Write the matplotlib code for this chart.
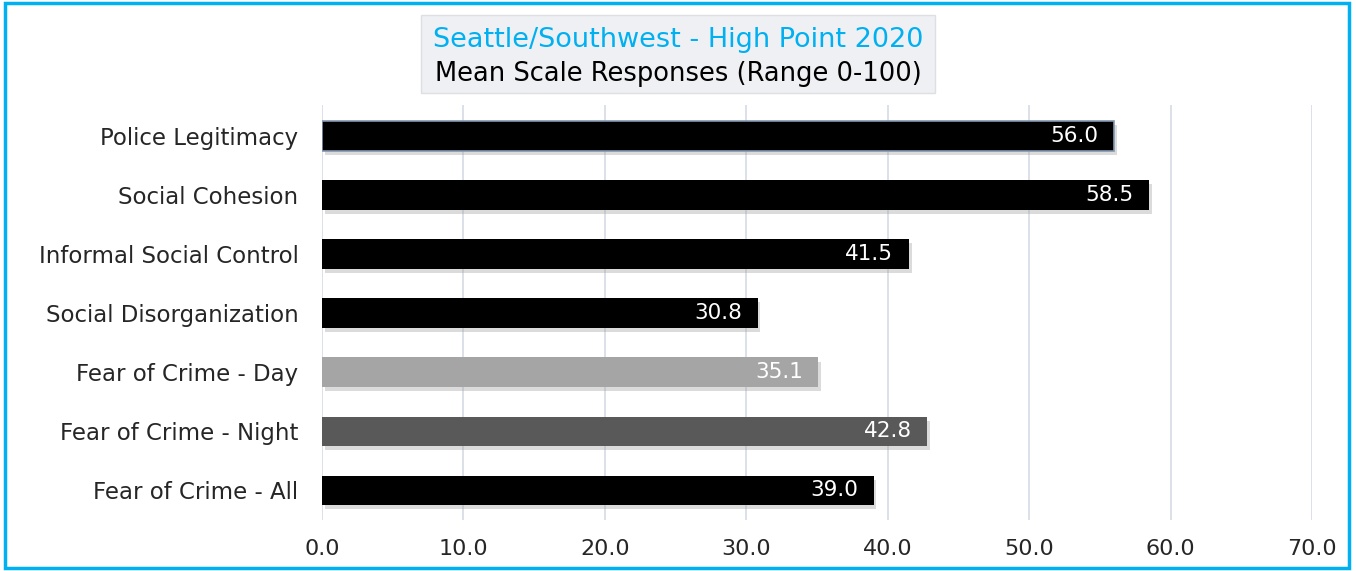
import matplotlib.pyplot as plt
import matplotlib.patheffects as pe
from matplotlib.patches import Rectangle

plt.rcParams['font.family'] = ['DejaVu Sans']

categories = ['Police Legitimacy', 'Social Cohesion', 'Informal Social Control',
              'Social Disorganization', 'Fear of Crime - Day', 'Fear of Crime - Night',
              'Fear of Crime - All']
values = [56.0, 58.5, 41.5, 30.8, 35.1, 42.8, 39.0]
colors = ['#000000', '#000000', '#000000', '#000000', '#A5A5A5', '#595959', '#000000']
xticks = [0, 10, 20, 30, 40, 50, 60, 70]

W, H = 1356, 571
fig = plt.figure(figsize=(W / 100, H / 100), dpi=100)
ax = fig.add_axes([322 / W, 1 - 520 / H, (1312 - 322) / W, (520 - 105) / H])

shadow = [pe.SimplePatchShadow(offset=(2, -3), shadow_rgbFace='#9A9A9A', alpha=0.35), pe.Normal()]
y = list(range(len(categories)))
bars = ax.barh(y, values, height=0.5, color=colors, zorder=3)
for b in bars:
    b.set_path_effects(shadow)
bars[0].set_edgecolor('#8497B0')
bars[0].set_linewidth(1.2)

for yi, v in zip(y, values):
    ax.text(v - 1.1, yi, '%.1f' % v, color='white', ha='right', va='center',
            fontsize=15.5, zorder=4)

ax.set_xlim(0, 70)
ax.set_ylim(6.5, -0.52)
ax.set_xticks(xticks)
ax.set_xticklabels(['%.1f' % t for t in xticks], fontsize=16, color='#262626')
ax.set_yticks(y)
ax.set_yticklabels(categories, fontsize=16.5, color='#262626')
ax.tick_params(length=0, pad=17, axis='y')
ax.tick_params(length=0, pad=14, axis='x')
ax.grid(axis='x', color='#D9DDE6', linewidth=1.3, zorder=0)
ax.set_axisbelow(True)
for s in ax.spines.values():
    s.set_visible(False)

# outer frame
fig.patches.append(Rectangle((5 / W, 3 / H), (1349 - 5) / W, (568 - 3) / H,
                             transform=fig.transFigure, fill=False,
                             edgecolor='#00B0F0', linewidth=2.5))
# title box
fig.patches.append(Rectangle((421 / W, 1 - 93 / H), (935 - 421) / W, (93 - 15) / H,
                             transform=fig.transFigure, facecolor='#EEF0F4',
                             edgecolor='#DDDFE3', linewidth=1))
fig.text(678 / W, 1 - 40 / H, 'Seattle/Southwest - High Point 2020', color='#00B0F0',
         fontsize=19.5, ha='center', va='center')
fig.text(678 / W, 1 - 74 / H, 'Mean Scale Responses (Range 0-100)', color='#000000',
         fontsize=18.5, ha='center', va='center')

fig.savefig('out.png', dpi=100)
